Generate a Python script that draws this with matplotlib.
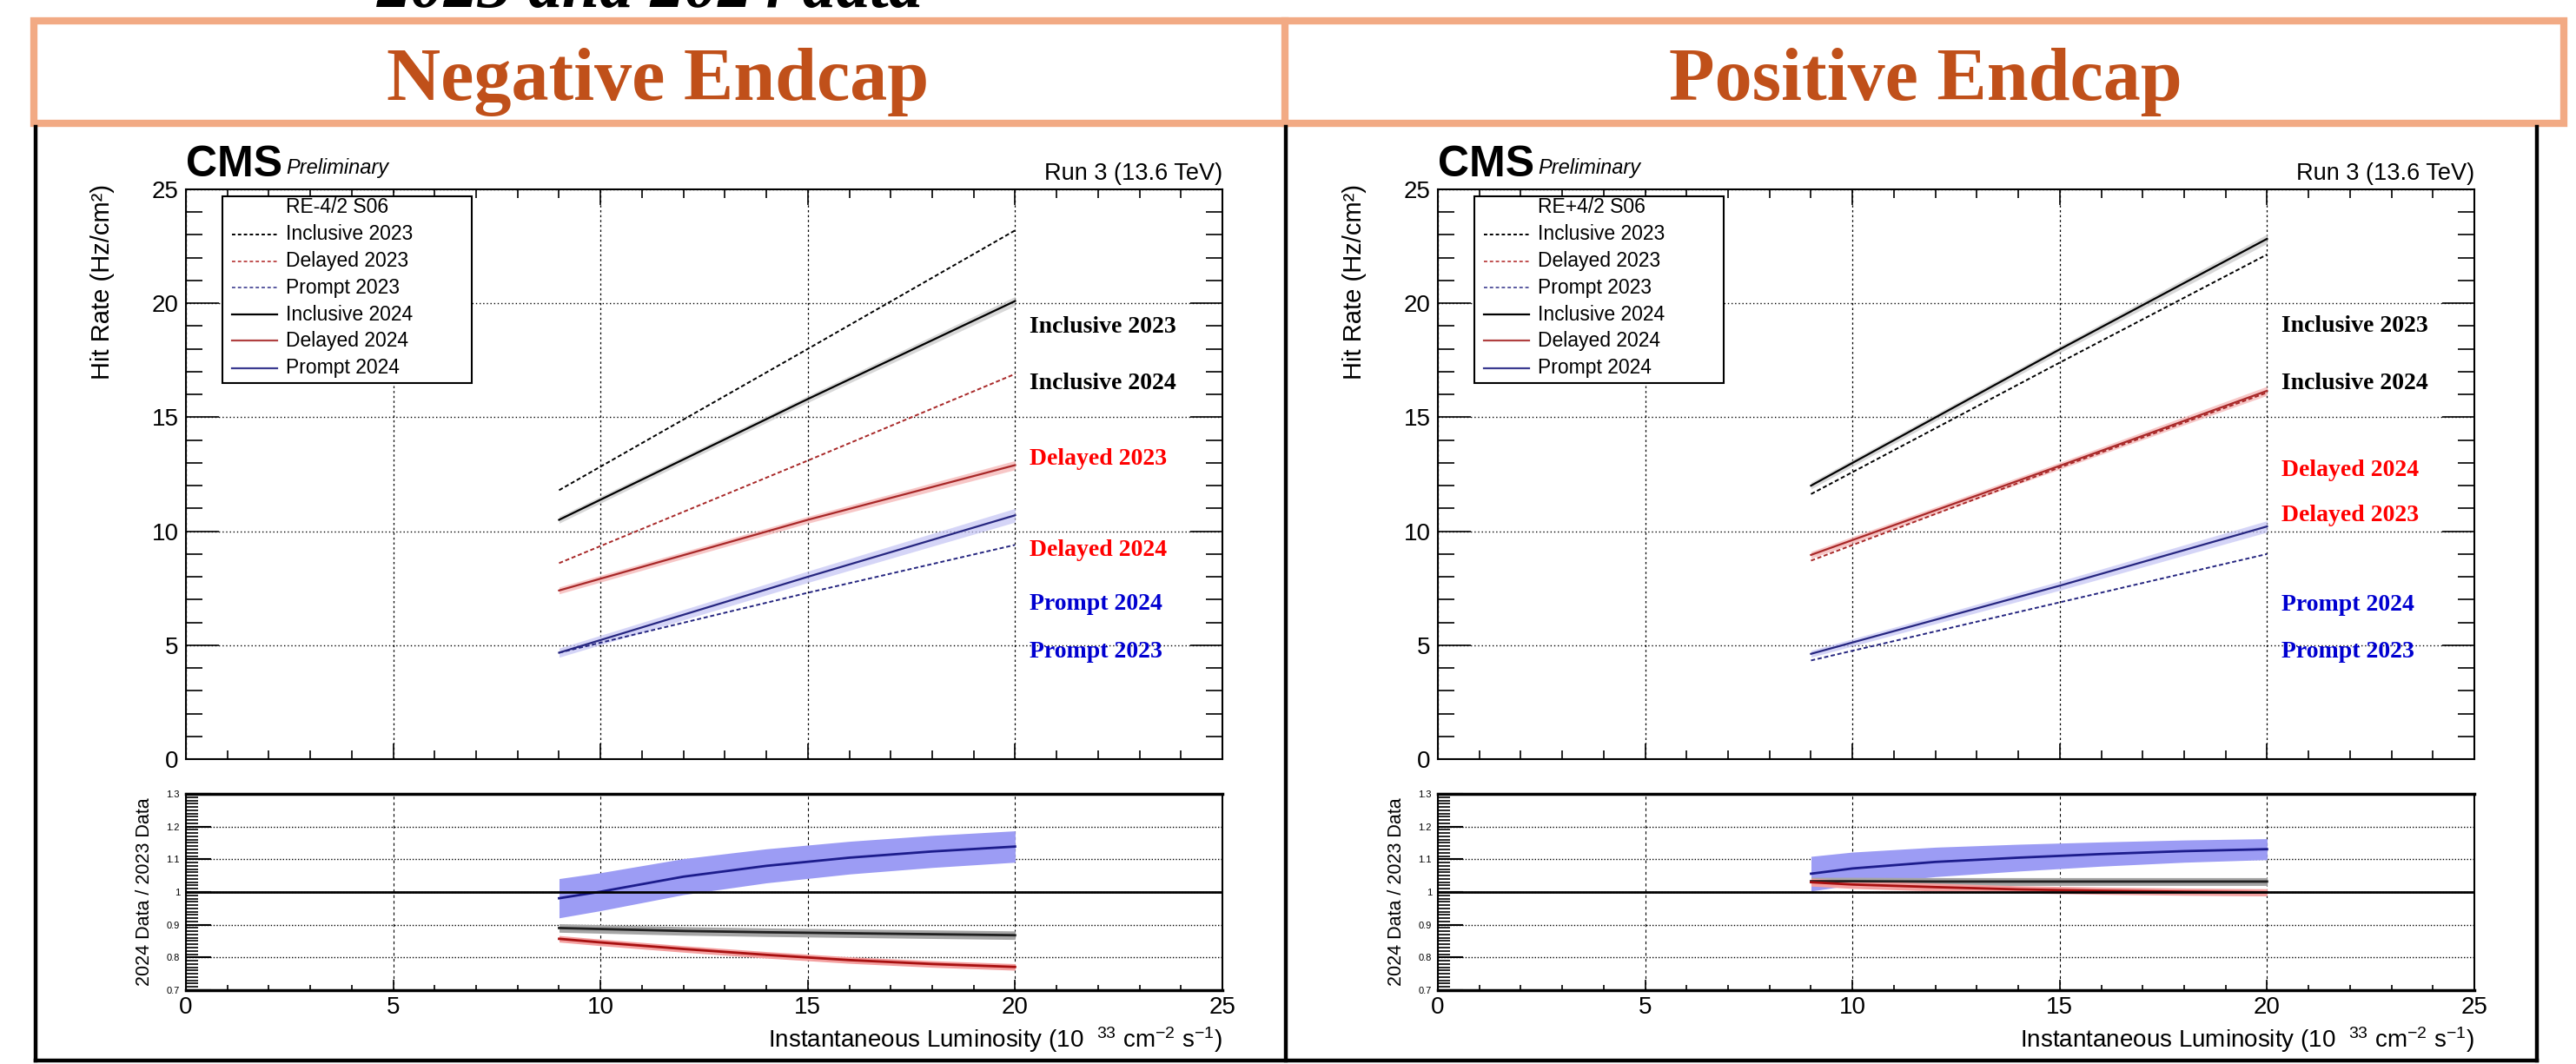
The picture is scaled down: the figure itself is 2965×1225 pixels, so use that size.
import numpy as np
import matplotlib
matplotlib.use("Agg")
import matplotlib.pyplot as plt
from matplotlib.ticker import MultipleLocator, FuncFormatter
from matplotlib.lines import Line2D
from matplotlib.patches import Rectangle

plt.rcParams['font.family'] = ['Liberation Sans', 'DejaVu Sans']
plt.rcParams['mathtext.fontset'] = 'custom'
plt.rcParams['mathtext.rm'] = 'Liberation Sans'
plt.rcParams['mathtext.it'] = 'Liberation Sans:italic'
plt.rcParams['mathtext.bf'] = 'Liberation Sans:bold'

# ---- data ----
lumi = [9, 15, 20]

neg_incl23 = [11.8, 18.0, 23.2]
neg_incl24 = [10.5, 15.8, 20.1]
neg_del23 = [8.6, 13.1, 16.9]
neg_del24 = [7.4, 10.5, 12.9]
neg_pr23 = [4.67, 7.3, 9.4]
neg_pr24 = [4.67, 8.0, 10.7]
neg_band24 = {"incl": [0.15, 0.15, 0.2], "del": [0.15, 0.15, 0.2], "pr": [0.2, 0.25, 0.3]}

pos_incl23 = [11.63, 17.4, 22.14]
pos_incl24 = [12.0, 17.98, 22.83]
pos_del23 = [8.71, 12.8, 16.08]
pos_del24 = [8.96, 12.87, 16.16]
pos_pr23 = [4.33, 6.88, 9.0]
pos_pr24 = [4.62, 7.61, 10.21]
pos_band24 = {"incl": [0.15, 0.15, 0.2], "del": [0.15, 0.15, 0.2], "pr": [0.15, 0.2, 0.25]}

lumi_r = [9, 10, 12, 14, 16, 18, 20]
neg_ratio_pr = [0.981, 1.001, 1.047, 1.080, 1.105, 1.124, 1.139]
neg_ratio_pr_err = [0.060, 0.058, 0.055, 0.052, 0.050, 0.049, 0.048]
neg_ratio_incl = [0.890, 0.887, 0.881, 0.877, 0.874, 0.871, 0.868]
neg_ratio_incl_err = [0.013, 0.013, 0.013, 0.013, 0.013, 0.013, 0.013]
neg_ratio_del = [0.857, 0.846, 0.826, 0.808, 0.792, 0.780, 0.771]
neg_ratio_del_err = [0.010, 0.010, 0.010, 0.010, 0.010, 0.010, 0.010]

pos_ratio_pr = [1.056, 1.072, 1.092, 1.105, 1.116, 1.125, 1.131]
pos_ratio_pr_err = [0.053, 0.050, 0.045, 0.041, 0.037, 0.034, 0.032]
pos_ratio_incl = [1.033, 1.033, 1.032, 1.032, 1.032, 1.032, 1.032]
pos_ratio_incl_err = [0.012, 0.012, 0.012, 0.012, 0.012, 0.012, 0.012]
pos_ratio_del = [1.030, 1.023, 1.015, 1.008, 1.004, 1.001, 0.999]
pos_ratio_del_err = [0.012, 0.012, 0.012, 0.011, 0.011, 0.011, 0.011]

legend_names = ["Inclusive 2023", "Delayed 2023", "Prompt 2023",
                "Inclusive 2024", "Delayed 2024", "Prompt 2024"]

neg_tags = ["Inclusive 2023", "Inclusive 2024", "Delayed 2023", "Delayed 2024", "Prompt 2024", "Prompt 2023"]
neg_tag_y = [18.71, 16.23, 12.92, 8.92, 6.56, 4.46]
pos_tags = ["Inclusive 2023", "Inclusive 2024", "Delayed 2024", "Delayed 2023", "Prompt 2024", "Prompt 2023"]
pos_tag_y = [18.76, 16.24, 12.42, 10.44, 6.52, 4.46]

# ---- styles ----
col = {"incl": "black", "del": "#a82828", "pr": "#262680"}
col_leg23 = {"incl": "black", "del": "#c05050", "pr": "#5a5aa0"}
col_leg24 = {"incl": "black", "del": "#b04040", "pr": "#3a3a90"}
band_col = {"incl": "#c8c8c8", "del": "#f4b0b0", "pr": "#c4c4f4"}
ratio_band = {"incl": "#a6a6a6", "del": "#f4a0a0", "pr": "#9c9cf4"}
ratio_line = {"incl": "#202020", "del": "#a81010", "pr": "#1c1c8c"}
tag_col = {"Inclusive": "black", "Delayed": "#ff0000", "Prompt": "#0000d0"}
dash23 = (0, (2.5, 1.5))

W, H = 2965, 1225
fig = plt.figure(figsize=(W / 100, H / 100), dpi=100)


def fx(px):
    return px / W


def fy(py):
    return 1 - py / H


# header boxes
orange = "#f2aa84"
fig.add_artist(Rectangle((fx(39), fy(141.5)), fx(2951) - fx(39), fy(24) - fy(141.5),
                         transform=fig.transFigure, fill=False, ec=orange, lw=6))
fig.add_artist(Line2D([fx(1479)] * 2, [fy(24), fy(141.5)], transform=fig.transFigure,
                      color=orange, lw=6))
for xx in [41, 1480, 2920]:
    fig.add_artist(Line2D([fx(xx)] * 2, [fy(146), fy(1221)], transform=fig.transFigure,
                          color="black", lw=3.2))
fig.add_artist(Line2D([fx(41), fx(2920)], [fy(1221)] * 2, transform=fig.transFigure,
                      color="black", lw=3.2))

fig.text(fx(748), fy(8), "2023 and 2024 data", family="Liberation Serif", fontweight="bold",
         style="italic", fontsize=56, ha="center", va="baseline")
fig.text(fx(757), fy(115), "Negative Endcap", family="Liberation Serif", fontweight="bold",
         fontsize=62, color="#c0501a", ha="center", va="baseline")
fig.text(fx(2216), fy(115), "Positive Endcap", family="Liberation Serif", fontweight="bold",
         fontsize=62, color="#c0501a", ha="center", va="baseline")


def draw_panel(left_px, region, curves, bands, ratios, tags, tag_y):
    wpx = 1193
    ax = fig.add_axes([fx(left_px), fy(874), wpx / W, 656 / H])
    axr = fig.add_axes([fx(left_px), fy(1140), wpx / W, 226 / H])

    # upper panel
    for key in ["incl", "del", "pr"]:
        v23, v24 = curves[key]
        lo = np.array(v24) - np.array(bands[key])
        hi = np.array(v24) + np.array(bands[key])
        ax.fill_between(lumi, lo, hi, color=band_col[key], lw=0, alpha=0.7, zorder=2)
        ax.plot(lumi, v24, color=col[key], lw=1.6, zorder=3)
        ax.plot(lumi, v23, color=col[key], lw=1.4, ls=dash23, zorder=3)

    ax.set_xlim(0, 25)
    ax.set_ylim(0, 25)
    ax.xaxis.set_major_locator(MultipleLocator(5))
    ax.xaxis.set_minor_locator(MultipleLocator(1))
    ax.yaxis.set_major_locator(MultipleLocator(5))
    ax.yaxis.set_minor_locator(MultipleLocator(1))
    ax.xaxis.grid(True, color="black", lw=0.9, ls=(0, (2, 2.5)))
    ax.yaxis.grid(True, color="black", lw=1.0, ls=(0, (1, 2)))
    ax.set_axisbelow(True)
    ax.tick_params(axis="x", which="major", direction="in", length=13, width=1.2,
                   top=True, bottom=True, labelbottom=False)
    ax.tick_params(axis="x", which="minor", direction="in", length=7, width=1.2,
                   top=True, bottom=True)
    ax.tick_params(axis="y", which="major", direction="in", length=27, width=1.2,
                   left=True, right=True, labelsize=20, pad=6)
    ax.tick_params(axis="y", which="minor", direction="in", length=14, width=1.2,
                   left=True, right=True)
    ax.yaxis.set_major_formatter(FuncFormatter(lambda v, p: "%g" % v))
    for s in ax.spines.values():
        s.set_linewidth(1.5)
    ax.set_ylabel("Hit Rate (Hz/cm²)", fontsize=21, loc="top")
    ax.yaxis.set_label_coords(-0.0686, 1.009)

    for name, yv in zip(tags, tag_y):
        ax.text(20.35, yv, name, family="Liberation Serif", fontweight="bold", fontsize=20,
                color=tag_col[name.split()[0]], ha="left", va="baseline", clip_on=False)

    # legend
    tr = ax.transAxes
    ax.add_patch(Rectangle((0.035, 0.66), 0.241, 0.328, transform=tr, fc="white",
                           ec="black", lw=1.5, zorder=5))
    rows = [0.968, 0.921, 0.874, 0.827, 0.780, 0.734, 0.686]
    ax.text(0.0962, rows[0], region, transform=tr, fontsize=16.5, va="center", zorder=6)
    keys = ["incl", "del", "pr", "incl", "del", "pr"]
    for i, (name, key) in enumerate(zip(legend_names, keys)):
        y = rows[i + 1]
        if "2023" in name:
            ax.add_line(Line2D([0.0444, 0.0879], [y, y], transform=tr, color=col_leg23[key],
                               lw=1.4, ls=(0, (2, 1.5)), zorder=6))
        else:
            ax.add_line(Line2D([0.0444, 0.0879], [y, y], transform=tr, color=col_leg24[key],
                               lw=1.6, zorder=6))
        ax.text(0.0962, y, name, transform=tr, fontsize=16.5, va="center", zorder=6)

    # CMS labels
    fig.text(fx(left_px), fy(203), "CMS", fontsize=36, fontweight="bold", va="baseline")
    fig.text(fx(left_px + 115), fy(200), "Preliminary", fontsize=17, style="italic",
             va="baseline")
    fig.text(fx(left_px + wpx), fy(207), "Run 3 (13.6 TeV)", fontsize=19.5, ha="right",
             va="baseline")

    # ratio panel
    for key in ["pr", "incl", "del"]:
        r, e = ratios[key]
        r = np.array(r)
        e = np.array(e)
        axr.fill_between(lumi_r, r - e, r + e, color=ratio_band[key], lw=0, zorder=2)
        axr.plot(lumi_r, r, color=ratio_line[key], lw=2, zorder=3)
    axr.axhline(1.0, color="black", lw=2, zorder=4)
    axr.set_xlim(0, 25)
    axr.set_ylim(0.7, 1.3)
    axr.xaxis.set_major_locator(MultipleLocator(5))
    axr.xaxis.set_minor_locator(MultipleLocator(1))
    axr.yaxis.set_major_locator(MultipleLocator(0.1))
    axr.yaxis.set_minor_locator(MultipleLocator(0.01))
    axr.xaxis.grid(True, color="black", lw=0.8, ls=(0, (3, 3)))
    axr.yaxis.grid(True, color="black", lw=1.0, ls=(0, (1, 1.5)))
    axr.set_axisbelow(True)
    axr.tick_params(axis="x", which="major", direction="in", length=9, width=1.2,
                    labelsize=20, pad=5, top=False)
    axr.tick_params(axis="x", which="minor", direction="in", length=4.5, width=1.2, top=False)
    axr.tick_params(axis="y", which="major", direction="in", length=21, width=1.5,
                    labelsize=8, pad=5, right=False)
    axr.tick_params(axis="y", which="minor", direction="in", length=10, width=1.2, right=False)
    axr.yaxis.set_major_formatter(FuncFormatter(lambda v, p: "%g" % round(v, 2)))
    for s in axr.spines.values():
        s.set_linewidth(1.5)
    axr.spines["top"].set_linewidth(2.5)
    axr.spines["bottom"].set_linewidth(2.5)
    axr.set_ylabel("2024 Data / 2023 Data", fontsize=15.5)
    axr.yaxis.set_label_coords(-0.031, 0.5)
    axr.set_xlabel(r"Instantaneous Luminosity (10  $^{33}$ cm$^{-2}$ s$^{-1}$)", fontsize=20,
                   loc="right")
    axr.xaxis.set_label_coords(1.0, -0.177)


draw_panel(214, "RE-4/2 S06",
           {"incl": (neg_incl23, neg_incl24), "del": (neg_del23, neg_del24),
            "pr": (neg_pr23, neg_pr24)},
           neg_band24,
           {"pr": (neg_ratio_pr, neg_ratio_pr_err), "incl": (neg_ratio_incl, neg_ratio_incl_err),
            "del": (neg_ratio_del, neg_ratio_del_err)},
           neg_tags, neg_tag_y)

draw_panel(1655, "RE+4/2 S06",
           {"incl": (pos_incl23, pos_incl24), "del": (pos_del23, pos_del24),
            "pr": (pos_pr23, pos_pr24)},
           pos_band24,
           {"pr": (pos_ratio_pr, pos_ratio_pr_err), "incl": (pos_ratio_incl, pos_ratio_incl_err),
            "del": (pos_ratio_del, pos_ratio_del_err)},
           pos_tags, pos_tag_y)

fig.savefig("out.png", dpi=100)
